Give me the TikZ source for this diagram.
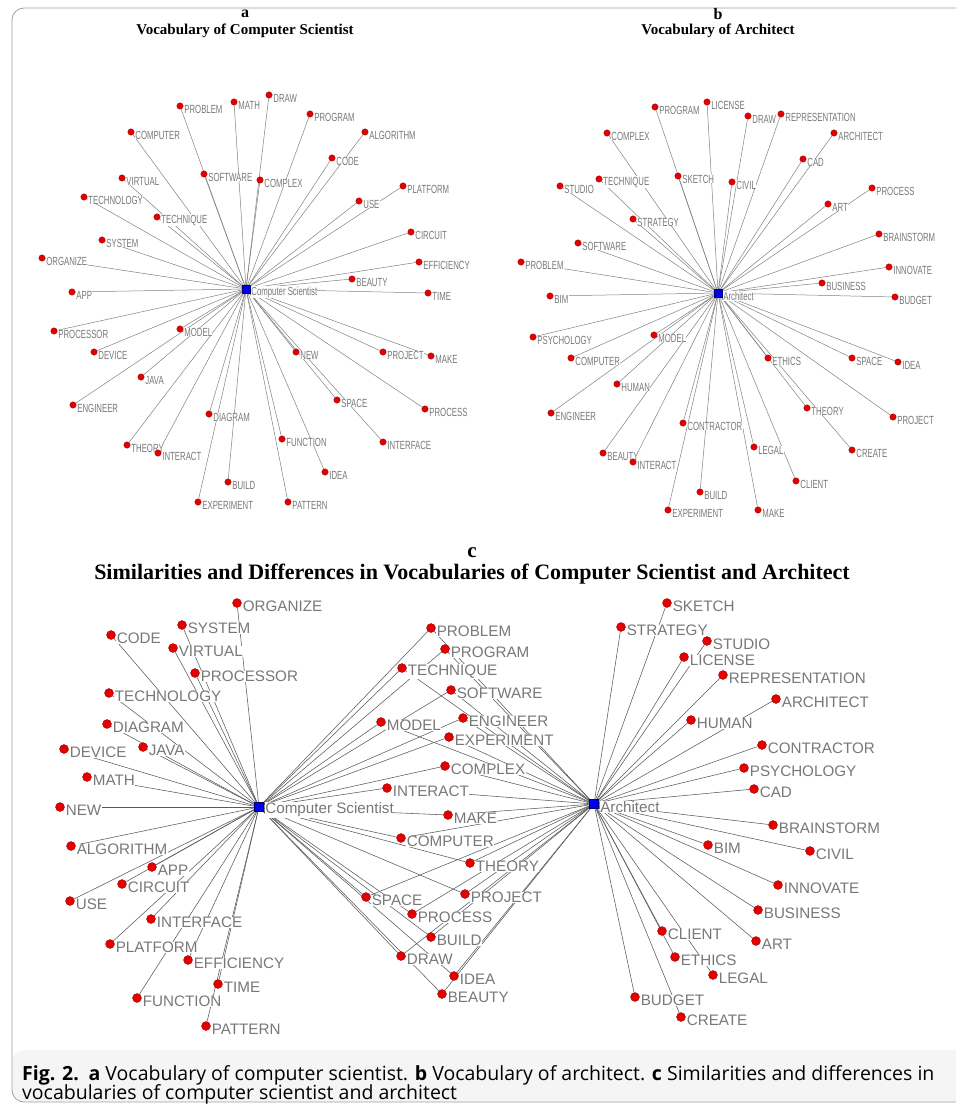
\documentclass[tikz,border=0pt]{standalone}
\usepackage{fontspec}
\setmainfont{Liberation Serif}
\newfontfamily\netfont{Liberation Sans}
\newfontfamily\netnarrow[FakeStretch=0.66]{Liberation Sans}
\newfontfamily\capfont{Open Sans}
\usetikzlibrary{positioning}
\pgfdeclarelayer{edges}
\pgfdeclarelayer{labels}
\pgfsetlayers{edges,labels,main}
\definecolor{wordred}{RGB}{228,0,0}
\definecolor{hubblue}{RGB}{0,0,235}
\definecolor{labelgray}{RGB}{120,120,120}
\definecolor{framegray}{RGB}{160,160,160}
\definecolor{capback}{RGB}{245,245,245}
\tikzset{
    word/.style={circle, fill=wordred, draw=red!55!black, line width=0.3pt, inner sep=0pt, minimum size=#1},
    word/.default={6.5pt},
    hub/.style={rectangle, fill=hubblue, draw=blue!45!black, line width=0.3pt, inner sep=0pt, minimum size=#1},
    hub/.default={7.5pt},
    small label/.style={text=labelgray, fill=white, inner sep=0.3pt, font=\netnarrow\fontsize{11.8}{12}\selectfont},
    big label/.style={text=labelgray, fill=white, inner sep=0.5pt, font=\netfont\fontsize{15.2}{16}\selectfont},
    tie/.style={draw=black!50, line width=0.5pt},
    paneltitle/.style={font=\bfseries\fontsize{#1}{#1}\selectfont},
    paneltitle/.default={15},
}
% word lists: name/x/y in pixels
\def\vocabA{PROBLEM/180/106, MATH/234/102, DRAW/269/95, PROGRAM/310/114, ALGORITHM/365/132,
    COMPUTER/131/132, CODE/332/158, SOFTWARE/204/174, COMPLEX/260/180, VIRTUAL/122/178,
    TECHNOLOGY/84/197, TECHNIQUE/157/217, USE/359/201, PLATFORM/403/186, CIRCUIT/411/232,
    SYSTEM/102/240, ORGANIZE/42/258, EFFICIENCY/419/262, APP/72/292, BEAUTY/352/279,
    TIME/428/293, PROCESSOR/54/331, MODEL/180/329, DEVICE/94/352, NEW/296/352,
    PROJECT/383/352, MAKE/431/356, JAVA/141/377, ENGINEER/73/405, SPACE/337/400,
    PROCESS/425/409, DIAGRAM/209/414, THEORY/127/445, INTERACT/158/453, FUNCTION/282/439,
    INTERFACE/383/442, IDEA/325/472, BUILD/228/482, EXPERIMENT/198/502, PATTERN/288/502}
\def\vocabB{PROGRAM/655/107, LICENSE/707/102, DRAW/748/116, REPRESENTATION/781/114, ARCHITECT/834/133,
    COMPLEX/607/133, CAD/803/159, STUDIO/560/186, TECHNIQUE/599/179, SKETCH/678/176,
    CIVIL/732/182, PROCESS/872/188, ART/828/204, STRATEGY/633/219, BRAINSTORM/879/234,
    SOFTWARE/578/243, PROBLEM/521/262, INNOVATE/889/267, BUSINESS/822/283, BIM/550/296,
    BUDGET/895/297, PSYCHOLOGY/533/337, MODEL/654/335, COMPUTER/571/358, ETHICS/768/358,
    SPACE/852/358, IDEA/898/362, HUMAN/617/384, THEORY/807/408, ENGINEER/551/413,
    PROJECT/893/417, CONTRACTOR/683/423, LEGAL/754/447, CREATE/852/450, BEAUTY/603/453,
    INTERACT/633/462, CLIENT/796/481, BUILD/700/492, EXPERIMENT/668/510, MAKE/758/510}
\def\onlyCS{ORGANIZE/237/603, SYSTEM/182/625, CODE/111/635, VIRTUAL/173/648, PROCESSOR/195/673,
    TECHNOLOGY/109/693, DIAGRAM/107/724, JAVA/143/747, DEVICE/64/749, MATH/87/777,
    NEW/60/807, ALGORITHM/71/846, APP/152/867, CIRCUIT/122/884, USE/70/901,
    INTERFACE/151/919, PLATFORM/110/944, EFFICIENCY/188/960, TIME/218/984, FUNCTION/137/998,
    PATTERN/206/1026}
\def\bothCSAR{PROBLEM/431/628, PROGRAM/445/649, TECHNIQUE/402/668, SOFTWARE/451/690, MODEL/381/722,
    ENGINEER/463/718, EXPERIMENT/449/737, COMPLEX/445/766, INTERACT/387/788, MAKE/448/815,
    COMPUTER/401/838, THEORY/470/863, SPACE/366/897, PROJECT/465/894, PROCESS/412/914,
    BUILD/431/937, DRAW/401/956, IDEA/454/976, BEAUTY/442/994}
\def\onlyAR{SKETCH/667/603, STRATEGY/621/627, STUDIO/707/641, LICENSE/684/657, REPRESENTATION/723/675,
    ARCHITECT/776/699, HUMAN/691/720, CONTRACTOR/762/745, PSYCHOLOGY/744/768, CAD/754/789,
    BRAINSTORM/773/825, BIM/708/845, CIVIL/810/851, INNOVATE/778/885, BUSINESS/758/910,
    CLIENT/662/931, ART/756/941, ETHICS/675/957, LEGAL/713/975, BUDGET/635/997,
    CREATE/681/1017}
\begin{document}
\begin{tikzpicture}[x=1pt, y=-1pt] % word networks
\useasboundingbox (0,0) rectangle (956,1107);
\clip (0,0) rectangle (956,1107);
% frame and caption
\fill[capback, rounded corners=12pt] (12,1050) -- (12,1102) -- (980,1102) -- (980,1050) -- cycle;
\draw[framegray, line width=0.8pt, rounded corners=12pt] (980,8) -- (12,8) -- (12,1102) -- (980,1102);
\node[anchor=base west, font=\capfont\fontsize{19.5}{22}\selectfont, inner sep=0pt] (cap1) at (22,1080)
    {\textbf{Fig. 2.}\enspace \textbf{a} Vocabulary of computer scientist. \textbf{b} Vocabulary of architect. \textbf{c} Similarities and differences in};
\node[anchor=base west, font=\capfont\fontsize{19.5}{22}\selectfont, inner sep=0pt] (cap2) at (22,1099)
    {vocabularies of computer scientist and architect};
% panel titles
\node[paneltitle=16] (ta) at (245,14) {a};
\node[paneltitle] (sa) at (245,31) {Vocabulary of Computer Scientist};
\node[paneltitle=16] (tb) at (718,14) {b};
\node[paneltitle] (sb) at (718,31) {Vocabulary of Architect};
\node[paneltitle=21] (tc) at (472,553) {c};
\node[paneltitle=22] (sc) at (472,574) {Similarities and Differences in Vocabularies of Computer Scientist and Architect};
% a: computer scientist
\node[hub] (ha) at (246,289) {};
\foreach \w/\x/\y in \vocabA
    \node[word] (a\w) at (\x,\y) {};
% b: architect
\node[hub] (hb) at (718,293) {};
\foreach \w/\x/\y in \vocabB
    \node[word] (b\w) at (\x,\y) {};
% c: both
\node[hub=9pt] (hcs) at (259,807) {};
\node[hub=9pt] (har) at (594,804) {};
\foreach \w/\x/\y in \onlyCS
    \node[word=9pt] (c\w) at (\x,\y) {};
\foreach \w/\x/\y in \bothCSAR
    \node[word=9pt] (c\w) at (\x,\y) {};
\foreach \w/\x/\y in \onlyAR
    \node[word=9pt] (c\w) at (\x,\y) {};
\begin{pgfonlayer}{labels}
\node[small label, right=1pt of ha, yshift=-3pt] {Computer Scientist};
\node[small label, right=1pt of hb, yshift=-3pt] {Architect};
\foreach \w/\x/\y in \vocabA
    \node[small label, right=0.5pt of a\w, yshift=-3pt] {\w};
\foreach \w/\x/\y in \vocabB
    \node[small label, right=0.5pt of b\w, yshift=-3pt] {\w};
\node[big label, right=1pt of hcs, yshift=-3pt] {Computer Scientist};
\node[big label, right=1pt of har, yshift=-3pt] {Architect};
\foreach \w/\x/\y in \onlyCS
    \node[big label, right=0.5pt of c\w, yshift=-3.5pt] {\w};
\foreach \w/\x/\y in \bothCSAR
    \node[big label, right=0.5pt of c\w, yshift=-3.5pt] {\w};
\foreach \w/\x/\y in \onlyAR
    \node[big label, right=0.5pt of c\w, yshift=-3.5pt] {\w};
\end{pgfonlayer}
\begin{pgfonlayer}{edges}
\foreach \w/\x/\y in \vocabA
    \draw[tie] (ha) -- (a\w);
\foreach \w/\x/\y in \vocabB
    \draw[tie] (hb) -- (b\w);
\foreach \w/\x/\y in \onlyCS
    \draw[tie, black!65, line width=0.55pt] (hcs) -- (c\w);
\foreach \w/\x/\y in \bothCSAR
    \draw[tie, black!65, line width=0.55pt] (hcs) -- (c\w) -- (har);
\foreach \w/\x/\y in \onlyAR
    \draw[tie, black!65, line width=0.55pt] (har) -- (c\w);
\end{pgfonlayer}
\end{tikzpicture}
\end{document}
